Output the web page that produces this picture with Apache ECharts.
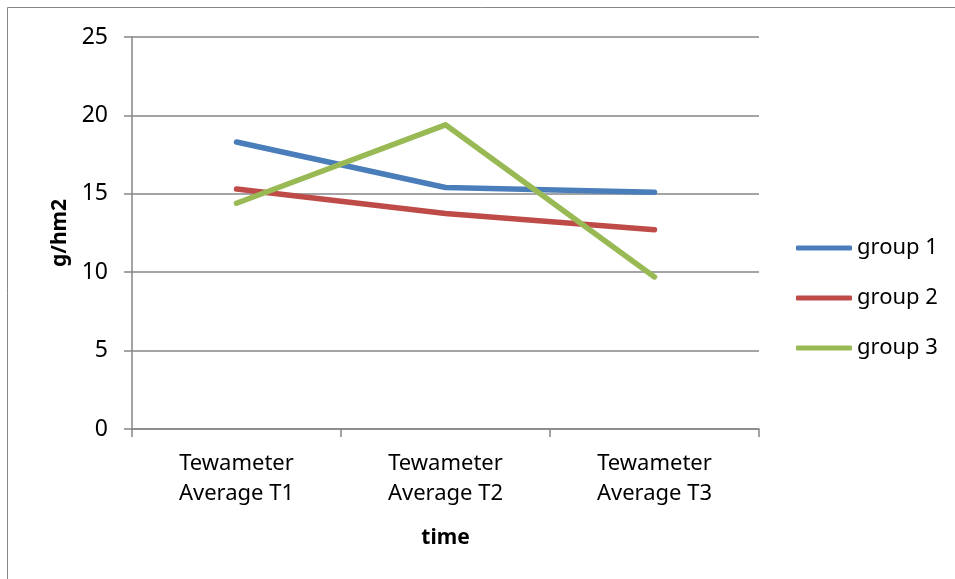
<!DOCTYPE html>
<html>
<head>
<meta charset="utf-8">
<style>
  html, body { margin: 0; padding: 0; background: #fff; }
  #chart { width: 955px; height: 579px; }
</style>
<script src="https://cdn.jsdelivr.net/npm/echarts@6/dist/echarts.min.js"></script>
</head>
<body>
<div id="chart"></div>
<script>
// Tewameter readings per group over three time points
const categories = ['Tewameter\nAverage T1', 'Tewameter\nAverage T2', 'Tewameter\nAverage T3'];
const group1 = [18.3, 15.4, 15.1];
const group2 = [15.3, 13.75, 12.7];
const group3 = [14.4, 19.4, 9.7];
const seriesNames = ['group 1', 'group 2', 'group 3'];
const colors = ['#4a7ebb', '#be4b48', '#98b954'];

const font = 'Noto Sans';
const axisGray = '#868686';

const chart = echarts.init(document.getElementById('chart'));

const lineSeries = [group1, group2, group3].map((values, i) => ({
  name: seriesNames[i],
  type: 'line',
  data: values,
  symbol: 'none',
  lineStyle: { width: 5.5, color: colors[i], cap: 'round', join: 'round' },
  itemStyle: { color: colors[i] }
}));

chart.setOption({
  animation: false,
  color: colors,
  graphic: [{
    type: 'rect',
    shape: { x: 7.5, y: 7.5, width: 1000, height: 1000 },
    style: { fill: 'none', stroke: axisGray, lineWidth: 1 }
  }],
  grid: { left: 132, right: 196, top: 37, bottom: 150, containLabel: false },
  legend: {
    orient: 'vertical',
    left: 791,
    top: 232,
    icon: 'roundRect',
    itemWidth: 56,
    itemHeight: 5,
    itemGap: 28,
    textStyle: { fontFamily: font, fontSize: 22, lineHeight: 20, color: '#000' },
    data: seriesNames
  },
  xAxis: {
    type: 'category',
    data: categories,
    boundaryGap: true,
    name: 'time',
    nameLocation: 'middle',
    nameGap: 99,
    nameTextStyle: { fontFamily: font, fontSize: 21, fontWeight: 'bold', color: '#000' },
    axisLine: { lineStyle: { color: axisGray, width: 1.5 } },
    axisTick: { show: true, length: 8, lineStyle: { color: axisGray, width: 1.5 } },
    axisLabel: { fontFamily: font, fontSize: 22, color: '#000', lineHeight: 30, margin: 20 }
  },
  yAxis: {
    type: 'value',
    min: 0,
    max: 25,
    interval: 5,
    name: 'g/hm2',
    nameLocation: 'middle',
    nameGap: 61,
    nameTextStyle: { fontFamily: font, fontSize: 21, fontWeight: 'bold', color: '#000' },
    axisLine: { show: true, lineStyle: { color: axisGray, width: 1.5 } },
    axisTick: { show: true, length: 8, lineStyle: { color: axisGray, width: 1.5 } },
    axisLabel: { fontFamily: font, fontSize: 23, color: '#000', margin: 24 },
    splitLine: { show: true, lineStyle: { color: axisGray, width: 1.5 } }
  },
  series: lineSeries
});
</script>
</body>
</html>
